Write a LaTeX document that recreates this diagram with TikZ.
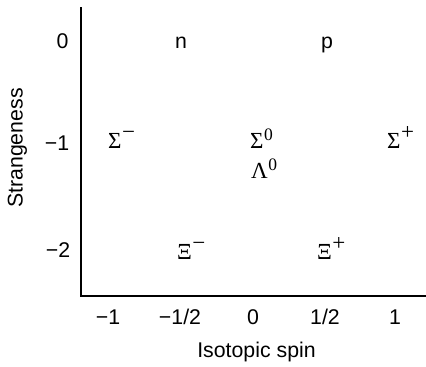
\documentclass[tikz,border=0pt]{standalone}
\usepackage{fontspec}
\setmainfont{Liberation Sans}
\newfontfamily\grk{Liberation Serif}
\newcommand{\supsign}[1]{\kern0.5pt\raisebox{8.5pt}{\fontsize{23}{23}\grk #1}}
\newcommand{\supzero}{\kern0.5pt\raisebox{7.5pt}{\fontsize{17.5}{17.5}\grk 0}}
\begin{document}
\begin{tikzpicture}[x=1pt,y=-1pt,
  lbl/.style={inner sep=0pt,anchor=base,font=\fontsize{21.3}{25}\selectfont},
  part/.style={inner sep=0pt,anchor=base west,font=\fontsize{23}{27}\grk},
  axisline/.style={line width=1.5pt}]
\useasboundingbox (0,0) rectangle (426,367);
\coordinate (top) at (81,7);
\coordinate (origin) at (81,296);
\coordinate (right) at (426,296);
\draw[axisline] (top) -- (origin) -- (right);
% y tick labels
\node[lbl] (y0) at (62.5,48) {0};
\node[lbl] (y1) at (57,150) {\char"2212 1};
\node[lbl] (y2) at (58,257) {\char"2212 2};
% x tick labels
\node[lbl] (xm1) at (108,324) {\char"2212 1};
\node[lbl] (xmh) at (180,324) {\char"2212 1/2};
\node[lbl] (x0) at (253,324) {0};
\node[lbl] (xh) at (325,324) {1/2};
\node[lbl] (x1) at (395,324) {1};
% axis titles
\node[lbl] (xt) at (256.5,357) {Isotopic spin};
\node[lbl,anchor=center,rotate=90] (yt) at (17.5,148) {Strangeness};
% particles
\node[lbl] (n) at (181,48) {n};
\node[lbl] (p) at (327,48) {p};
\node[part] (sm) at (108,148) {Σ\supsign{\char"2212}};
\node[part] (s0) at (250,148) {Σ\supzero};
\node[part] (l0) at (251,178) {Λ\supzero};
\node[part] (sp) at (387,148) {Σ\supsign{+}};
\node[part] (xim) at (177,259) {Ξ\supsign{\char"2212}};
\node[part] (xip) at (317,259) {Ξ\supsign{+}};
\end{tikzpicture}
\end{document}
